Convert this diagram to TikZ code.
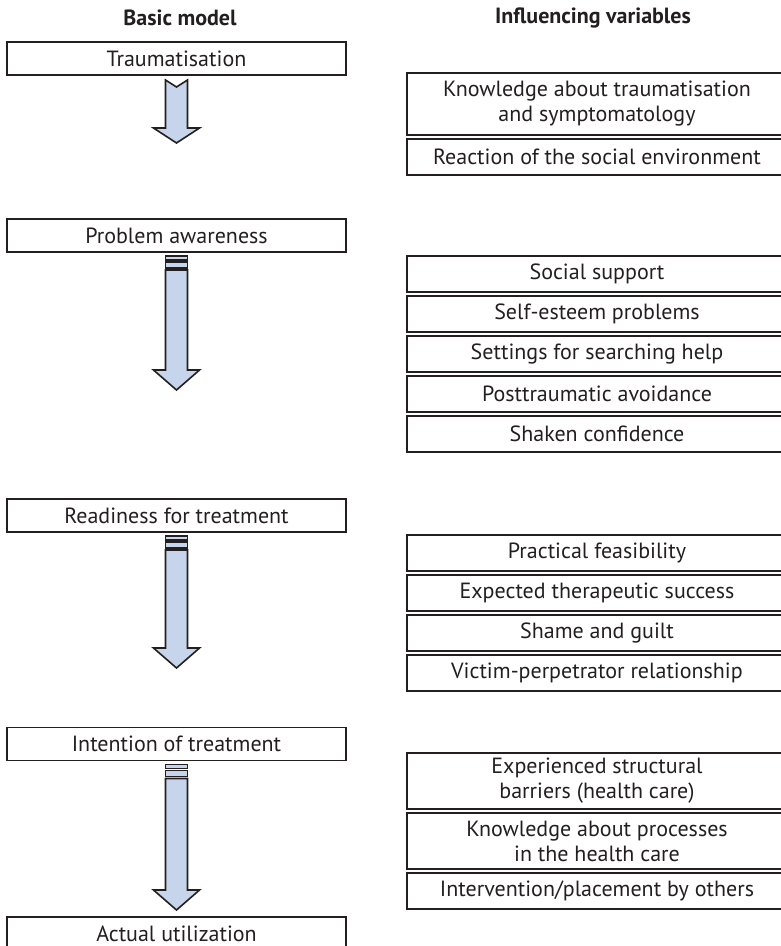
\documentclass[tikz,border=0pt]{standalone}
\usepackage{fontspec}
\setmainfont{PT Sans}
\usetikzlibrary{positioning,calc}
\usepackage{xcolor}
\definecolor{ink}{HTML}{231F20}
\definecolor{paleblue}{HTML}{C6D5EB}

\begin{document}
\begin{tikzpicture}[
  x=1pt, y=1pt,
  node distance=4pt,
  stage/.style={draw=ink, line width=1.8pt, minimum width=339pt, minimum height=33pt, inner sep=0pt, outer sep=0pt, text=ink, font=\fontsize{22}{25}\selectfont},
  factor/.style={draw=ink, line width=1.8pt, minimum width=380pt, minimum height=36pt, inner sep=0pt, outer sep=0pt, align=center, text=ink, font=\fontsize{22}{25}\selectfont},
  twoline/.style={factor, minimum height=56pt},
  heading/.style={text=ink, font=\fontsize{22}{25}\selectfont\bfseries},
  flow/.style={draw=ink, fill=paleblue, line width=1.6pt, line join=miter},
  stripe/.style={flow, line width=1.1pt}
]
\useasboundingbox (0,0) rectangle (780,-946);

\node[heading] (basic) at (180,-18) {Basic model};
\node[heading] (infl) at (593,-18) {Influencing variables};

% basic model
\node[stage] (trauma) at (176.5,-58.5) {Traumatisation};
\node[stage] (aware) at (176.5,-235.5) {Problem awareness};
\node[stage] (ready) at (176.5,-515.5) {Readiness for treatment};
\node[stage] (intent) at (176.5,-744) {Intention of treatment};
\node[stage] (actual) at (176.5,-933.5) {Actual utilization};

% influencing variables
\node[twoline, minimum height=62pt, anchor=north west] (know) at (407,-73) {Knowledge about traumatisation\\and symptomatology};
\node[factor, below=of know] (react) {Reaction of the social environment};

\node[factor, anchor=north west] (social) at (407,-256) {Social support};
\node[factor, below=of social] (esteem) {Self-esteem problems};
\node[factor, below=of esteem] (settings) {Settings for searching help};
\node[factor, below=of settings] (avoid) {Posttraumatic avoidance};
\node[factor, below=of avoid] (shaken) {Shaken confidence};

\node[factor, anchor=north west] (feasible) at (407,-535) {Practical feasibility};
\node[factor, below=of feasible] (success) {Expected therapeutic success};
\node[factor, below=of success] (shame) {Shame and guilt};
\node[factor, below=of shame] (victim) {Victim-perpetrator relationship};

\node[twoline, anchor=north west] (barriers) at (407,-753) {Experienced structural\\barriers (health care)};
\node[twoline, below=of barriers] (process) {Knowledge about processes\\in the health care};
\node[factor, below=of process] (others) {Intervention/placement by others};

% block arrows
\coordinate (tip1) at (176.5,-143);
\coordinate (tip2) at (176.5,-390);
\coordinate (tip3) at (176.5,-668);
\coordinate (tip4) at (176.5,-910);

\draw[flow] let \p1=(trauma.south), \p2=(tip1) in
  (\x1-11pt,\y1-5pt) -- (\x1,\y1-12pt) -- (\x1+11pt,\y1-5pt) -- (\x1+11pt,\y2+15pt)
  -- (\x1+23pt,\y2+15pt) -- (\x2,\y2) -- (\x1-23pt,\y2+15pt) -- (\x1-11pt,\y2+15pt) -- cycle;

\foreach \from/\to in {aware/tip2, ready/tip3, intent/tip4} {
  \draw[stripe] ($(\from.south)+(-11,-4)$) rectangle ($(\from.south)+(11,-8)$);
  \draw[stripe] ($(\from.south)+(-11,-10)$) rectangle ($(\from.south)+(11,-16)$);
  \draw[flow] let \p1=(\from.south), \p2=(\to) in
    (\x1-11pt,\y1-18pt) -- (\x1+11pt,\y1-18pt) -- (\x1+11pt,\y2+20pt) -- (\x1+23pt,\y2+20pt)
    -- (\x2,\y2) -- (\x1-23pt,\y2+20pt) -- (\x1-11pt,\y2+20pt) -- cycle;
}
\end{tikzpicture}
\end{document}
